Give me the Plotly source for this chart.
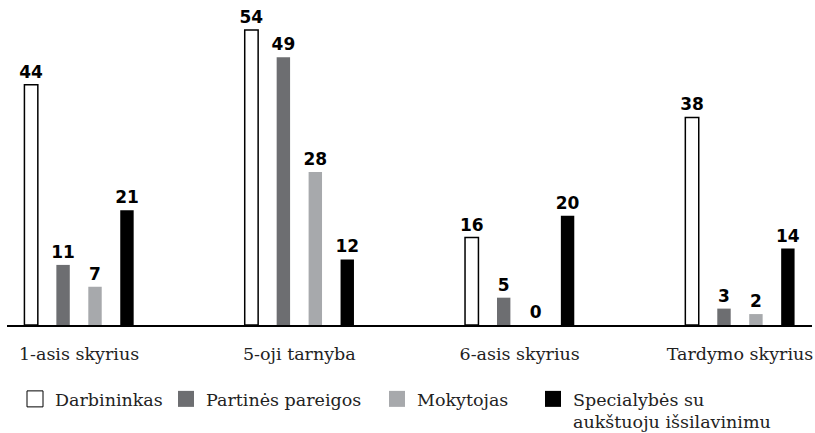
import plotly.graph_objects as go

categories = ["1-asis skyrius", "5-oji tarnyba", "6-asis skyrius", "Tardymo skyrius"]
series_names = ["Darbininkas", "Partinės pareigos", "Mokytojas", "Specialybės su<br>aukštuoju išsilavinimu"]
darbininkas = [44, 54, 16, 38]
partines = [11, 49, 5, 3]
mokytojas = [7, 28, 0, 2]
specialybes = [21, 12, 20, 14]

values = [darbininkas, partines, mokytojas, specialybes]
fills = ["#ffffff", "#6d6e71", "#a7a9ac", "#000000"]
lines = [1.5, 0, 0, 0]
legend_ids = ["legend", "legend2", "legend3", "legend4"]
legend_x_px = [15, 166, 377, 533]

serif = "DejaVu Serif"
xpos = list(range(len(categories)))

fig = go.Figure()
for name, vals, fc, lw, lid in zip(series_names, values, fills, lines, legend_ids):
    fig.add_trace(go.Bar(
        x=xpos, y=vals, name=name, showlegend=False,
        marker=dict(color=fc, line=dict(color="#000000", width=lw)),
        text=[str(v) for v in vals], textposition="outside",
        constraintext="none", cliponaxis=False,
        textfont=dict(family="DejaVu Sans", size=17, color="#000000", weight="bold"),
    ))
    fig.add_trace(go.Scatter(
        x=[None], y=[None], mode="markers", name=name, showlegend=True, legend=lid,
        marker=dict(symbol="square", size=16, color=fc, line=dict(color="#000000", width=1 if lw else 0)),
    ))

legend_common = dict(orientation="v", xanchor="left", yanchor="top", yref="container",
                     y=1 - 381 / 433, valign="top", bgcolor="rgba(0,0,0,0)",
                     font=dict(family=serif, size=17.5, color="#222222"), itemclick=False)

layout_legends = {}
for lid, px in zip(legend_ids, legend_x_px):
    layout_legends[lid] = dict(legend_common, x=(px - 7) / 805)

fig.update_layout(
    width=815, height=433,
    margin=dict(l=7, r=3, t=20, b=108),
    plot_bgcolor="#ffffff", paper_bgcolor="#ffffff",
    barmode="group", bargap=0.42, bargroupgap=0.58,
    font=dict(family=serif, size=17.5, color="#222222"),
    xaxis=dict(range=[-0.327, 3.327], tickmode="array", tickvals=xpos, ticktext=categories,
               showline=True, linecolor="#000000", linewidth=1.5, showgrid=False, zeroline=False,
               ticks="", ticklabelstandoff=12, tickfont=dict(family=serif, size=17.5, color="#222222")),
    yaxis=dict(range=[0, 55.83], visible=False, showgrid=False, zeroline=False),
    **layout_legends,
)

fig.write_html("out.html", config={"displayModeBar": False},
               post_script="document.body.style.margin='0';document.body.style.padding='0';")
